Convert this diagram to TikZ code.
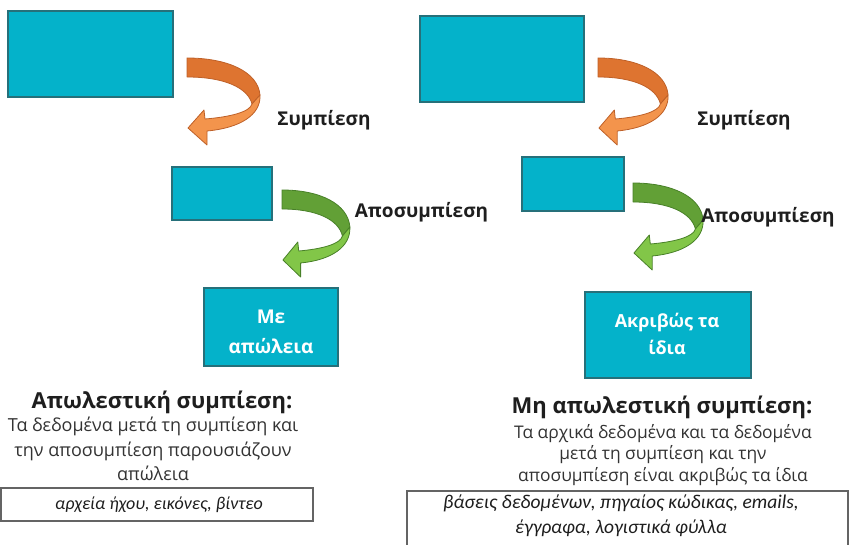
\documentclass[tikz,border=0pt]{standalone}
\usepackage{fontspec}
\setmainfont{Open Sans}
\newfontfamily\itfont{Carlito}
\definecolor{tealfill}{RGB}{4,178,202}
\definecolor{tealline}{RGB}{38,112,122}
\definecolor{orlight}{RGB}{243,148,76}
\definecolor{ordark}{RGB}{222,116,48}
\definecolor{orline}{RGB}{190,96,40}
\definecolor{grlight}{RGB}{130,198,72}
\definecolor{grdark}{RGB}{98,160,54}
\definecolor{grline}{RGB}{72,128,40}
\definecolor{txt}{RGB}{30,30,30}
\definecolor{bodytxt}{RGB}{51,51,51}
\definecolor{listline}{RGB}{100,100,100}
\newcommand\ribbonarrow[6]{%
 \begin{scope}[shift={(#1,#2)},xscale=#6]
  \filldraw[fill=#3,draw=#5,line width=0.8pt,line join=round]
   (0,0) .. controls (41,0) and (71,14) .. (73,37) -- (65,46)
   .. controls (61,30) and (38,19) .. (0,19) -- cycle;
  \filldraw[fill=#4,draw=#5,line width=0.8pt,line join=round]
   (73,37) .. controls (74,57) and (53,70) .. (20,73) -- (20,87) -- (1,70)
   -- (17,52) -- (18,61) .. controls (43,59) and (63,54) .. (65,46) -- cycle;
 \end{scope}}
\tikzset{
 tealbox/.style={draw=tealline,fill=tealfill,line width=1.2pt,inner sep=0pt},
 boxtext/.style={text=white,align=center},
 steplabel/.style={text=txt,font=\fontsize{19}{22}\selectfont\bfseries,anchor=center},
 heading/.style={text=txt,font=\fontsize{22}{26}\selectfont\bfseries,anchor=center},
 listbox/.style={draw=listline,fill=white,line width=1.2pt},
 listtext/.style={text=txt,align=center}
}
\begin{document}
\begin{tikzpicture}[x=1pt,y=-1pt]
\useasboundingbox (0,0) rectangle (849,545);
% ---------- left column ----------
\node[tealbox,minimum width=165pt,minimum height=86pt] (l1) at (90.5,54) {};
\ribbonarrow{187}{58}{ordark}{orlight}{orline}{1}
\node[steplabel] (lc) at (324,120) {Συμπίεση};
\node[tealbox,minimum width=100pt,minimum height=53pt] (l2) at (222,193.5) {};
\ribbonarrow{282}{190}{grdark}{grlight}{grline}{0.93}
\node[steplabel] (ld) at (421.5,212) {Αποσυμπίεση};
\node[tealbox,minimum width=134pt,minimum height=78pt] (l3) at (271,327) {};
\node[boxtext,font=\fontsize{19}{30}\selectfont\bfseries] (l3t) at (271,332) {Με\\απώλεια};
\node[heading] (lh) at (162,402) {Απωλεστική συμπίεση:};
\node[text=bodytxt,font=\fontsize{18}{24.5}\selectfont,align=center] (lb) at (153,449)
  {Τα δεδομένα μετά τη συμπίεση και\\την αποσυμπίεση παρουσιάζουν\\απώλεια};
\draw[listbox] (1,488) rectangle (313,521);
\node[listtext,font=\itfont\itshape\fontsize{18}{25}\selectfont] (ll) at (159,505)
  {αρχεία ήχου, εικόνες, βίντεο};
% ---------- right column ----------
\node[tealbox,minimum width=164pt,minimum height=86pt] (r1) at (502,59) {};
\ribbonarrow{598}{58}{ordark}{orlight}{orline}{0.96}
\node[steplabel] (rc) at (744,120) {Συμπίεση};
\node[tealbox,minimum width=102pt,minimum height=54pt] (r2) at (573,184) {};
\ribbonarrow{633}{183}{grdark}{grlight}{grline}{0.96}
\node[steplabel] (rd) at (768,217) {Αποσυμπίεση};
\node[tealbox,minimum width=166pt,minimum height=86pt] (r3) at (668,335) {};
\node[boxtext,font=\fontsize{18}{26.5}\selectfont\bfseries] (r3t) at (667,334) {Ακριβώς τα\\ίδια};
\node[heading] (rh) at (662,407) {Μη απωλεστική συμπίεση:};
\node[text=bodytxt,font=\fontsize{17.4}{21.5}\selectfont,align=center] (rb) at (663,455)
  {Τα αρχικά δεδομένα και τα δεδομένα\\μετά τη συμπίεση και την\\αποσυμπίεση είναι ακριβώς τα ίδια};
\draw[listbox] (407,491) rectangle (848,552);
\node[listtext,font=\itfont\itshape\fontsize{19.5}{25}\selectfont] (rl) at (621,516)
  {βάσεις δεδομένων, πηγαίος κώδικας, emails,\\έγγραφα, λογιστικά φύλλα};
\end{tikzpicture}
\end{document}
